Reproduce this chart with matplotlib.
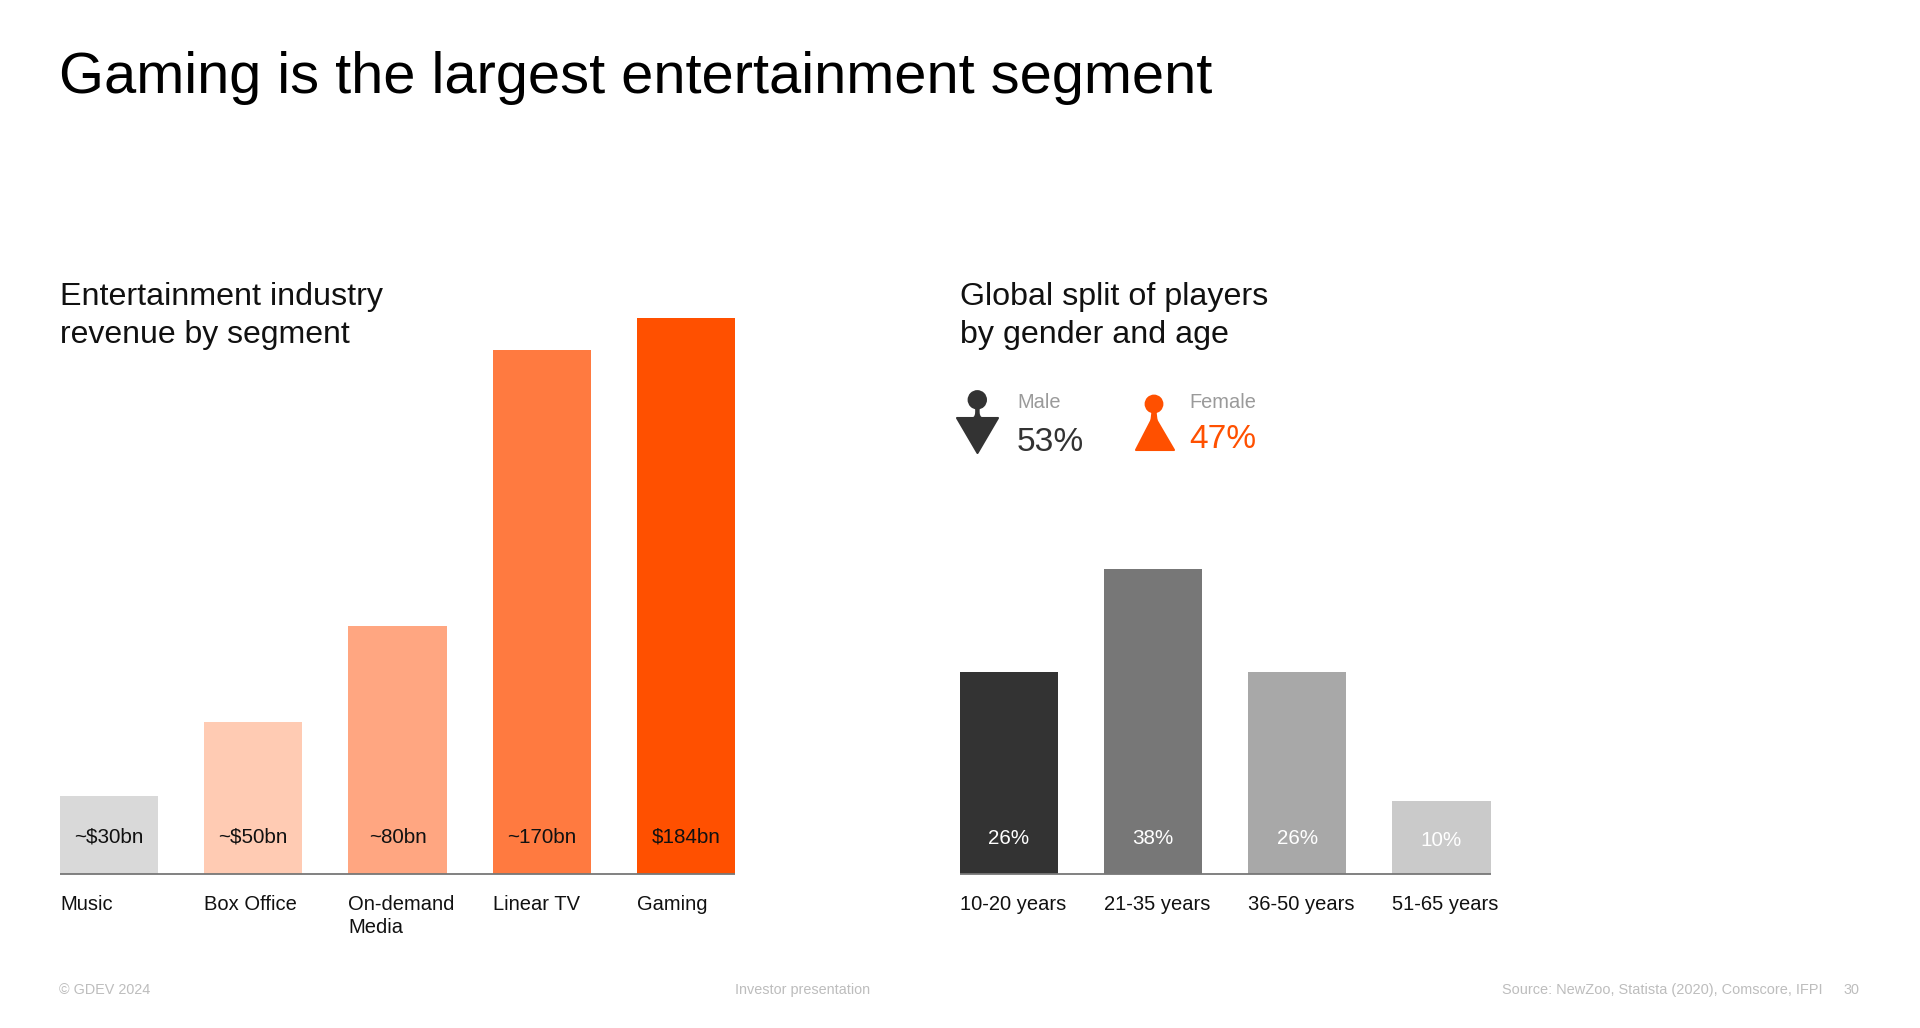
import matplotlib
matplotlib.use("Agg")
import matplotlib.pyplot as plt
from matplotlib.patches import Circle, PathPatch
from matplotlib.path import Path
import numpy as np

W, H = 1920, 1028

segments = ["Music", "Box Office", "On-demand\nMedia", "Linear TV", "Gaming"]
revenue = [25.8, 50.4, 82, 173.5, 184]
revenue_labels = ["~$30bn", "~$50bn", "~80bn", "~170bn", "$184bn"]
revenue_colors = ["#d9d9d9", "#ffcbb3", "#ffa681", "#ff7a40", "#ff5000"]

ages = ["10-20 years", "21-35 years", "36-50 years", "51-65 years"]
age_share = [25.6, 38.6, 25.6, 9.2]
age_labels = ["26%", "38%", "26%", "10%"]
age_colors = ["#333333", "#777777", "#a8a8a8", "#cacaca"]

plt.rcParams['font.family'] = ['Liberation Sans', 'DejaVu Sans']
ORANGE = "#ff5000"


def px(size):
    return size * 0.72


def bars(box, values, colors, cats, ymax):
    # box is left, right, top, bottom in pixels
    left, right, top, bottom = box
    ax = fig.add_axes([left / W, 1 - bottom / H, (right - left) / W, (bottom - top) / H])
    x = np.arange(len(values))
    ax.bar(x, values, width=0.68, color=colors, linewidth=0)
    ax.set_xlim(-0.34, len(values) - 1 + 0.34)
    ax.set_ylim(0, ymax)
    for s in ["top", "left", "right"]:
        ax.spines[s].set_visible(False)
    ax.spines["bottom"].set_color("#777777")
    ax.spines["bottom"].set_linewidth(1.3)
    ax.spines["bottom"].set_capstyle("butt")
    ax.set_yticks([])
    ax.set_xticks(x - 0.34, cats, ha="left", fontsize=px(20.2), color="#111111", linespacing=1.3)
    ax.tick_params(axis="x", length=0, pad=15)
    ax.patch.set_alpha(0)
    return ax, x


fig = plt.figure(figsize=(W / 100, H / 100), dpi=100, facecolor="white")

# overlay in pixel coordinates for the slide text and icons
ov = fig.add_axes([0, 0, 1, 1])
ov.set_xlim(0, W)
ov.set_ylim(H, 0)
ov.axis("off")

ov.text(59, 93, "Gaming is the largest entertainment segment", fontsize=px(57.8), color="black", va="baseline")
ov.text(60, 305, "Entertainment industry", fontsize=px(32.3), color="#111111", va="baseline")
ov.text(60, 343, "revenue by segment", fontsize=px(32), color="#111111", va="baseline")
ov.text(960, 305, "Global split of players", fontsize=px(32.3), color="#111111", va="baseline")
ov.text(960, 343, "by gender and age", fontsize=px(32.3), color="#111111", va="baseline")

ax1, x1 = bars((60, 735, 318, 874), revenue, revenue_colors, segments, 184)
for i, lab in zip(x1, revenue_labels):
    ax1.text(i, 12.1, lab, ha="center", va="center", fontsize=px(20.7), color="#111111")

ax2, x2 = bars((960, 1490.5, 318, 874), age_share, age_colors, ages, 556 / 7.9)
for i, lab in zip(x2, age_labels):
    # the last label sits a little lower in the original
    ax2.text(i, 4.3 if lab == "10%" else 4.5, lab, ha="center", va="center", fontsize=px(20.7), color="white")

# male icon
male = Path([(957, 418), (973.5, 418), (976.2, 417), (976.2, 412), (976.2, 406), (978.6, 406), (978.6, 412),
             (978.6, 417), (981.5, 418), (998, 418), (977.5, 453), (957, 418)],
            [Path.MOVETO, Path.LINETO, Path.CURVE3, Path.CURVE3, Path.LINETO, Path.LINETO, Path.LINETO,
             Path.CURVE3, Path.CURVE3, Path.LINETO, Path.LINETO, Path.CLOSEPOLY])
ov.add_patch(PathPatch(male, facecolor="#333333", edgecolor="#333333", lw=1.5, joinstyle="round"))
ov.add_patch(Circle((977.3, 399.8), 9.7, color="#333333", lw=0))

# female icon
female = Path([(1136, 450), (1174, 450), (1157, 421), (1155.5, 417), (1155.5, 408), (1152.5, 408),
               (1152.5, 417), (1151, 421), (1136, 450)],
              [Path.MOVETO, Path.LINETO, Path.LINETO, Path.CURVE3, Path.CURVE3, Path.LINETO,
               Path.CURVE3, Path.CURVE3, Path.CLOSEPOLY])
ov.add_patch(PathPatch(female, facecolor=ORANGE, edgecolor=ORANGE, lw=1.5, joinstyle="round"))
ov.add_patch(Circle((1154, 404), 9.4, color=ORANGE, lw=0))

ov.text(1017, 403, "Male", fontsize=px(20), color="#9a9a9a", va="center")
ov.text(1017, 451, "53%", fontsize=px(33.5), color="#333333", va="baseline")
ov.text(1189, 403, "Female", fontsize=px(20), color="#9a9a9a", va="center")
ov.text(1189, 448, "47%", fontsize=px(33.5), color=ORANGE, va="baseline")

# footer
ov.text(59, 994, "\u00a9 GDEV 2024", fontsize=px(14.4), color="#bdbdbd", va="baseline")
ov.text(735, 994, "Investor presentation", fontsize=px(14.4), color="#bdbdbd", va="baseline")
ov.text(1502, 994, "Source: NewZoo, Statista (2020), Comscore, IFPI", fontsize=px(14.5), color="#bdbdbd", va="baseline")
ov.text(1843, 994, "30", fontsize=px(14.4), color="#bdbdbd", va="baseline")

fig.savefig("out.png", dpi=100)
